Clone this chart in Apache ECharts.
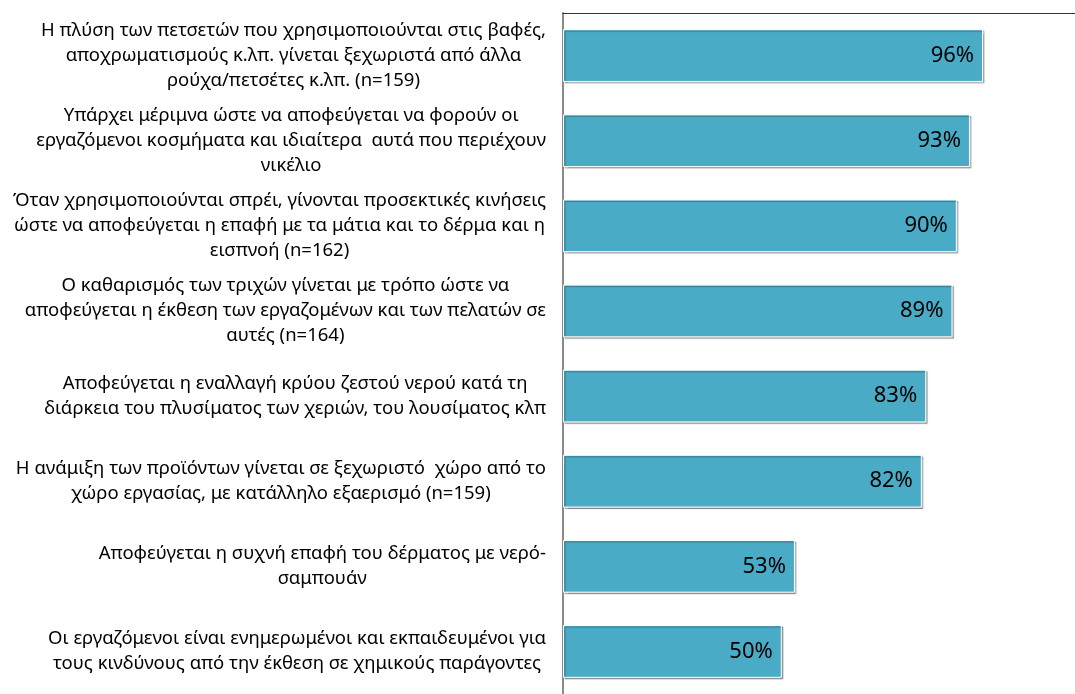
<!DOCTYPE html>
<html>
<head>
<meta charset="utf-8">
<script src="https://cdn.jsdelivr.net/npm/echarts@6/dist/echarts.min.js"></script>
<style>
  html, body { margin: 0; padding: 0; background: #fff; }
  #chart { width: 1075px; height: 694px; }
</style>
</head>
<body>
<div id="chart"></div>
<script>
// categories (line breaks as in the picture)
const categories = [
  'Η πλύση των πετσετών που χρησιμοποιούνται στις βαφές,\nαποχρωματισμούς κ.λπ. γίνεται ξεχωριστά από άλλα\nρούχα/πετσέτες κ.λπ. (n=159)',
  'Υπάρχει μέριμνα ώστε να αποφεύγεται να φορούν οι\nεργαζόμενοι κοσμήματα και ιδιαίτερα  αυτά που περιέχουν\nνικέλιο',
  'Όταν χρησιμοποιούνται σπρέι, γίνονται προσεκτικές κινήσεις\nώστε να αποφεύγεται η επαφή με τα μάτια και το δέρμα και η\nεισπνοή (n=162)',
  'Ο καθαρισμός των τριχών γίνεται με τρόπο ώστε να\nαποφεύγεται η έκθεση των εργαζομένων και των πελατών σε\nαυτές (n=164)',
  'Αποφεύγεται η εναλλαγή κρύου ζεστού νερού κατά τη\nδιάρκεια του πλυσίματος των χεριών, του λουσίματος κλπ',
  'Η ανάμιξη των προϊόντων γίνεται σε ξεχωριστό  χώρο από το\nχώρο εργασίας, με κατάλληλο εξαερισμό (n=159)',
  'Αποφεύγεται η συχνή επαφή του δέρματος με νερό-\nσαμπουάν',
  'Οι εργαζόμενοι είναι ενημερωμένοι και εκπαιδευμένοι για\nτους κινδύνους από την έκθεση σε χημικούς παράγοντες'
];

// percentages
const values = [96, 93, 90, 89, 83, 82, 53, 50];

const chart = echarts.init(document.getElementById('chart'));

const option = {
  animation: false,
  grid: {
    left: 563,
    top: 13,
    right: 0,
    bottom: -4
  },
  xAxis: {
    type: 'value',
    position: 'top',
    min: 0,
    max: 117,
    axisLine: { show: true, lineStyle: { color: '#333', width: 1.2 } },
    axisTick: { show: false },
    axisLabel: { show: false },
    splitLine: { show: false }
  },
  yAxis: {
    type: 'category',
    inverse: true,
    data: categories,
    axisLine: { lineStyle: { color: '#8a8a8a', width: 2 } },
    axisTick: { length: 7, lineStyle: { color: '#8a8a8a', width: 2 } },
    axisLabel: {
      align: 'right',
      margin: 17,
      formatter: v => v.split('\n').map(l => '{c|' + l + '}').join('\n'),
      rich: {
        c: {
          align: 'center',
          fontFamily: 'Noto Sans',
          fontSize: 18.5,
          lineHeight: 25,
          color: '#000'
        }
      }
    }
  },
  series: [
    {
      type: 'bar',
      data: values,
      barCategoryGap: '38%',
      itemStyle: {
        color: '#4aabc6',
        borderColor: '#ffffff',
        borderWidth: 1,
        shadowColor: 'rgba(0,0,0,0.3)',
        shadowOffsetX: 1.5,
        shadowOffsetY: 1.5,
        shadowBlur: 1
      },
      label: {
        show: true,
        position: 'insideRight',
        distance: 9,
        formatter: p => p.value + '%',
        fontFamily: 'Noto Sans',
        fontSize: 22,
        color: '#000'
      }
    }
  ]
};

chart.setOption(option);
</script>
</body>
</html>
